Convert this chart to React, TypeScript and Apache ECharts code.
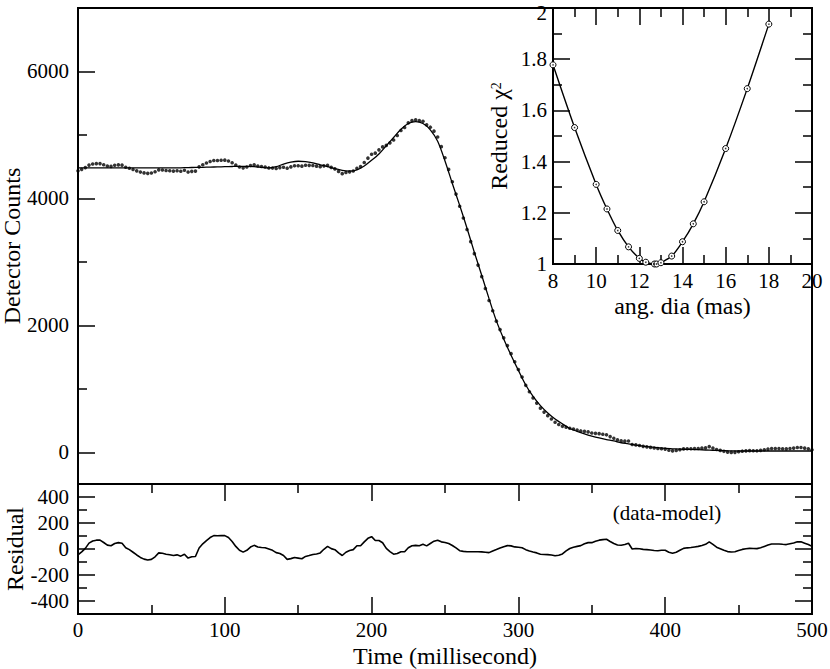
import React, { useEffect, useRef } from "react";
import * as echarts from "echarts";

// ---- data ----
// sample spacing of the light-curve (milliseconds)
const SAMPLE_STEP = 2.5;
const MODEL_STEP = 5;

// model light curve, t = 0, 5, 10, ... 500 ms
const modelValue = [
  4480, 4480, 4480, 4480, 4480, 4480, 4480, 4480, 4480, 4480,
  4480, 4480, 4480, 4480, 4482, 4485, 4488, 4490, 4493, 4496,
  4500, 4503, 4505, 4505, 4500, 4490, 4480, 4500, 4540, 4570,
  4585, 4580, 4560, 4530, 4500, 4470, 4440, 4430, 4450, 4510,
  4600, 4700, 4830, 4960, 5090, 5180, 5210, 5180, 5080, 4900,
  4590, 4235, 3890, 3530, 3150, 2790, 2420, 2070, 1785, 1530,
  1290, 1060, 880, 735, 620, 525, 447, 375, 330, 290,
  255, 225, 200, 178, 150, 133, 112, 96, 85, 72,
  60, 55, 50, 46, 43, 38, 34, 30, 25, 21,
  20, 20, 20, 20, 20, 20, 20, 20, 20, 20,
  20,
];

// detector counts, t = 0, 2.5, 5, ... 500 ms
const dataValue = [
  4434, 4458, 4485, 4525, 4542, 4548, 4548, 4530, 4510, 4505,
  4522, 4529, 4524, 4490, 4475, 4455, 4434, 4415, 4402, 4395,
  4400, 4420, 4450, 4447, 4440, 4436, 4430, 4436, 4427, 4443,
  4415, 4426, 4430, 4497, 4530, 4557, 4581, 4598, 4598, 4601,
  4603, 4590, 4561, 4524, 4495, 4481, 4495, 4518, 4528, 4511,
  4502, 4495, 4480, 4478, 4472, 4485, 4490, 4476, 4496, 4514,
  4515, 4508, 4523, 4521, 4518, 4508, 4500, 4513, 4520, 4488,
  4465, 4425, 4390, 4408, 4418, 4432, 4475, 4501, 4565, 4634,
  4695, 4713, 4765, 4811, 4835, 4875, 4920, 4991, 5069, 5117,
  5190, 5225, 5238, 5225, 5216, 5159, 5122, 5060, 4968, 4815,
  4640, 4457, 4262, 4068, 3877, 3692, 3509, 3319, 3129, 2949,
  2768, 2580, 2392, 2230, 2066, 1933, 1803, 1681, 1554, 1426,
  1304, 1185, 1055, 953, 857, 775, 695, 633, 577, 524,
  473, 437, 409, 395, 379, 366, 350, 336, 330, 321,
  304, 298, 293, 284, 275, 247, 220, 195, 179, 175,
  177, 122, 116, 106, 93, 85, 77, 67, 59, 56,
  50, 32, 22, 27, 40, 53, 55, 56, 59, 60,
  65, 72, 89, 67, 44, 29, 15, 3, -2, -1,
  8, 17, 22, 25, 24, 23, 30, 40, 50, 59,
  59, 59, 56, 54, 60, 66, 75, 75, 65, 55,
  40,
];

// residual (data - model), t = 0, 2.5, 5, ... 500 ms
const residualValue = [
  -46, -22, 5, 45, 62, 68, 68, 50, 30, 25,
  42, 49, 44, 10, -5, -25, -46, -65, -78, -85,
  -80, -60, -30, -33, -40, -44, -50, -45, -55, -40,
  -70, -60, -58, 8, 40, 65, 88, 103, 102, 103,
  103, 88, 58, 20, -10, -24, -10, 15, 28, 16,
  12, 10, 0, -10, -28, -35, -50, -80, -74, -65,
  -70, -75, -57, -50, -42, -38, -30, -2, 20, 3,
  -5, -30, -50, -25, -12, -5, 25, 25, 55, 82,
  95, 65, 65, 48, 5, -20, -40, -35, -21, -21,
  10, 25, 28, 25, 36, 24, 42, 60, 68, 55,
  50, 42, 27, 8, -13, -18, -21, -21, -21, -21,
  -22, -25, -28, -15, -4, 8, 18, 26, 24, 16,
  14, 10, -5, -15, -23, -30, -40, -42, -43, -46,
  -52, -48, -38, -15, 4, 14, 20, 26, 40, 49,
  49, 60, 68, 72, 75, 58, 42, 31, 29, 34,
  44, 0, 4, 2, -3, -5, -8, -11, -13, -10,
  -10, -25, -33, -25, -10, 5, 9, 12, 16, 20,
  27, 36, 55, 35, 14, 2, -10, -20, -23, -21,
  -12, -3, 2, 5, 4, 3, 10, 20, 30, 39,
  39, 39, 36, 34, 40, 46, 55, 55, 45, 35,
  20,
];

// inset: reduced chi^2 vs angular diameter
const chiDia = [8, 9, 10, 10.5, 11, 11.5, 12, 12.3, 12.7, 12.8, 13, 13.5, 14, 14.5, 15, 16, 17, 18];
const chiVal = [1.778, 1.533, 1.311, 1.215, 1.131, 1.067, 1.022, 1.007, 1.0, 1.0, 1.005, 1.031, 1.087, 1.157, 1.243, 1.451, 1.685, 1.937];

// tick values
const mainYMajor = [0, 2000, 4000, 6000];
const mainYMinor = [1000, 3000, 5000];
const resYMajor = [-400, -200, 0, 200, 400];
const resYMinor = [-300, -100, 100, 300];

const FONT = '"Liberation Serif", "Times New Roman", "DejaVu Serif", serif';
const BLACK = "#000";

const lineW = 1.5;
const majorTick = (extra: any = {}) => ({
  show: true,
  inside: true,
  length: 17,
  lineStyle: { color: BLACK, width: lineW },
  ...extra,
});
const minorTick = { show: true, length: 9, splitNumber: 2, lineStyle: { color: BLACK, width: lineW } };
const noLine = { show: false, onZero: false };
const label = (extra: any = {}) => ({
  show: true,
  color: BLACK,
  fontFamily: FONT,
  fontSize: 21,
  lineHeight: 16,
  ...extra,
});
const nameStyle = { color: BLACK, fontFamily: FONT, fontSize: 24, lineHeight: 20 };

export default function App() {
  const ref = useRef<HTMLDivElement>(null);

  useEffect(() => {
    document.body.style.margin = "0";
    if (!ref.current) return;
    const chart = echarts.init(ref.current, null, { renderer: "svg" });

    const modelPairs = modelValue.map((v, i) => [i * MODEL_STEP, v]);
    const dataPairs = dataValue.map((v, i) => [i * SAMPLE_STEP, v]);
    const resPairs = residualValue.map((v, i) => [i * SAMPLE_STEP, v]);
    const chiPairs = chiDia.map((d, i) => [d, chiVal[i]]);

    const gridBase = {
      show: true,
      borderColor: BLACK,
      borderWidth: 2,
      containLabel: false,
      outerBoundsMode: "none",
    };

    const option: any = {
      animation: false,
      backgroundColor: "#fff",
      grid: [
        { ...gridBase, left: 78, top: 8, width: 734, height: 476 },
        { ...gridBase, left: 78, top: 484, width: 734, height: 130 },
        { ...gridBase, left: 553, top: 8, width: 259, height: 256 },
      ],
      xAxis: [
        {
          gridIndex: 0, type: "value", min: 0, max: 500, interval: 100,
          axisLine: noLine, axisTick: { show: false }, axisLabel: { show: false }, splitLine: { show: false },
        },
        {
          gridIndex: 1, type: "value", min: 0, max: 500, interval: 100, position: "bottom",
          axisLine: noLine, axisTick: majorTick(), minorTick, splitLine: { show: false },
          axisLabel: label({ margin: 8, formatter: (v: number) => String(v) }),
          name: "Time (millisecond)", nameLocation: "middle", nameGap: 32, nameMoveOverlap: false,
          nameTextStyle: nameStyle,
        },
        {
          gridIndex: 1, type: "value", min: 0, max: 500, interval: 100, position: "top",
          axisLine: noLine, axisTick: majorTick(), minorTick, splitLine: { show: false },
          axisLabel: { show: false },
        },
        {
          gridIndex: 2, type: "value", min: 8, max: 20, interval: 2, position: "bottom",
          axisLine: noLine, axisTick: majorTick(), minorTick, splitLine: { show: false },
          axisLabel: label({ margin: 9, formatter: (v: number) => String(v) }),
          name: "ang. dia (mas)", nameLocation: "middle", nameGap: 32, nameMoveOverlap: false,
          nameTextStyle: nameStyle,
        },
        {
          gridIndex: 2, type: "value", min: 8, max: 20, interval: 2, position: "top",
          axisLine: noLine, axisTick: majorTick(), minorTick, splitLine: { show: false },
          axisLabel: { show: false },
        },
      ],
      yAxis: [
        {
          gridIndex: 0, type: "value", min: -500, max: 7000, position: "left",
          axisLine: noLine, splitLine: { show: false },
          axisTick: majorTick({ customValues: mainYMajor }),
          axisLabel: label({ margin: 9, customValues: mainYMajor, formatter: (v: number) => String(v) }),
          name: "Detector Counts", nameLocation: "middle", nameGap: 56, nameMoveOverlap: false,
          nameTextStyle: nameStyle,
        },
        {
          gridIndex: 0, type: "value", min: -500, max: 7000, position: "left",
          axisLine: noLine, splitLine: { show: false }, axisLabel: { show: false },
          axisTick: { show: true, inside: true, length: 9, customValues: mainYMinor, lineStyle: { color: BLACK, width: lineW } },
        },
        {
          gridIndex: 1, type: "value", min: -500, max: 500, position: "left",
          axisLine: noLine, splitLine: { show: false },
          axisTick: majorTick({ customValues: resYMajor }),
          axisLabel: label({ margin: 9, customValues: resYMajor, formatter: (v: number) => String(v) }),
          name: "Residual", nameLocation: "middle", nameGap: 53, nameMoveOverlap: false,
          nameTextStyle: nameStyle,
        },
        {
          gridIndex: 1, type: "value", min: -500, max: 500, position: "left",
          axisLine: noLine, splitLine: { show: false }, axisLabel: { show: false },
          axisTick: { show: true, inside: true, length: 9, customValues: resYMinor, lineStyle: { color: BLACK, width: lineW } },
        },
        {
          gridIndex: 1, type: "value", min: -500, max: 500, position: "right",
          axisLine: noLine, splitLine: { show: false }, axisLabel: { show: false },
          axisTick: majorTick({ customValues: resYMajor }),
        },
        {
          gridIndex: 1, type: "value", min: -500, max: 500, position: "right",
          axisLine: noLine, splitLine: { show: false }, axisLabel: { show: false },
          axisTick: { show: true, inside: true, length: 9, customValues: resYMinor, lineStyle: { color: BLACK, width: lineW } },
        },
        {
          gridIndex: 2, type: "value", min: 1, max: 2, interval: 0.2, position: "left",
          axisLine: noLine, splitLine: { show: false },
          axisTick: majorTick(), minorTick,
          axisLabel: label({
            margin: 6,
            formatter: (v: number) => {
              const s = String(Math.round(v * 10) / 10);
              return v >= 2 ? "{top|" + s + "}" : s;
            },
            rich: { top: { fontFamily: FONT, fontSize: 21, color: BLACK, lineHeight: 16, padding: [10, 0, 0, 0] } },
          }),
          name: "Reduced χ{sup|2}", nameLocation: "middle", nameGap: 44, nameMoveOverlap: false,
          nameTextStyle: {
            ...nameStyle,
            rich: { sup: { fontFamily: FONT, fontSize: 14, color: BLACK, verticalAlign: "top", lineHeight: 14 } },
          },
        },
        {
          gridIndex: 2, type: "value", min: 1, max: 2, interval: 0.2, position: "right",
          axisLine: noLine, splitLine: { show: false }, axisLabel: { show: false },
          axisTick: majorTick(), minorTick,
        },
      ],
      graphic: [
        {
          type: "text",
          x: 667,
          y: 513,
          style: { text: "(data-model)", fontFamily: FONT, fontSize: 21, fill: BLACK, align: "center", verticalAlign: "middle" },
        },
      ],
      series: [
        {
          type: "line", xAxisIndex: 0, yAxisIndex: 0, data: modelPairs, smooth: 0.3,
          showSymbol: false, lineStyle: { color: BLACK, width: 1.3 }, z: 3,
        },
        {
          type: "scatter", xAxisIndex: 0, yAxisIndex: 0, data: dataPairs, symbol: "circle", symbolSize: 3.6,
          itemStyle: { color: BLACK }, z: 4,
        },
        {
          type: "line", xAxisIndex: 1, yAxisIndex: 2, data: resPairs, showSymbol: false,
          lineStyle: { color: BLACK, width: 1.6 },
        },
        {
          type: "line", xAxisIndex: 3, yAxisIndex: 6, data: chiPairs, smooth: 0.3,
          symbol: "circle", symbolSize: 6, showSymbol: true,
          lineStyle: { color: BLACK, width: 1.4 },
          itemStyle: { color: "#fff", borderColor: BLACK, borderWidth: 1 },
          z: 3,
        },
        {
          type: "scatter", xAxisIndex: 3, yAxisIndex: 6, data: chiPairs, symbol: "circle", symbolSize: 1.6,
          itemStyle: { color: BLACK }, z: 4,
        },
      ],
    };

    chart.setOption(option);
    return () => chart.dispose();
  }, []);

  return <div ref={ref} style={{ width: 830, height: 669, background: "#fff" }} />;
}
